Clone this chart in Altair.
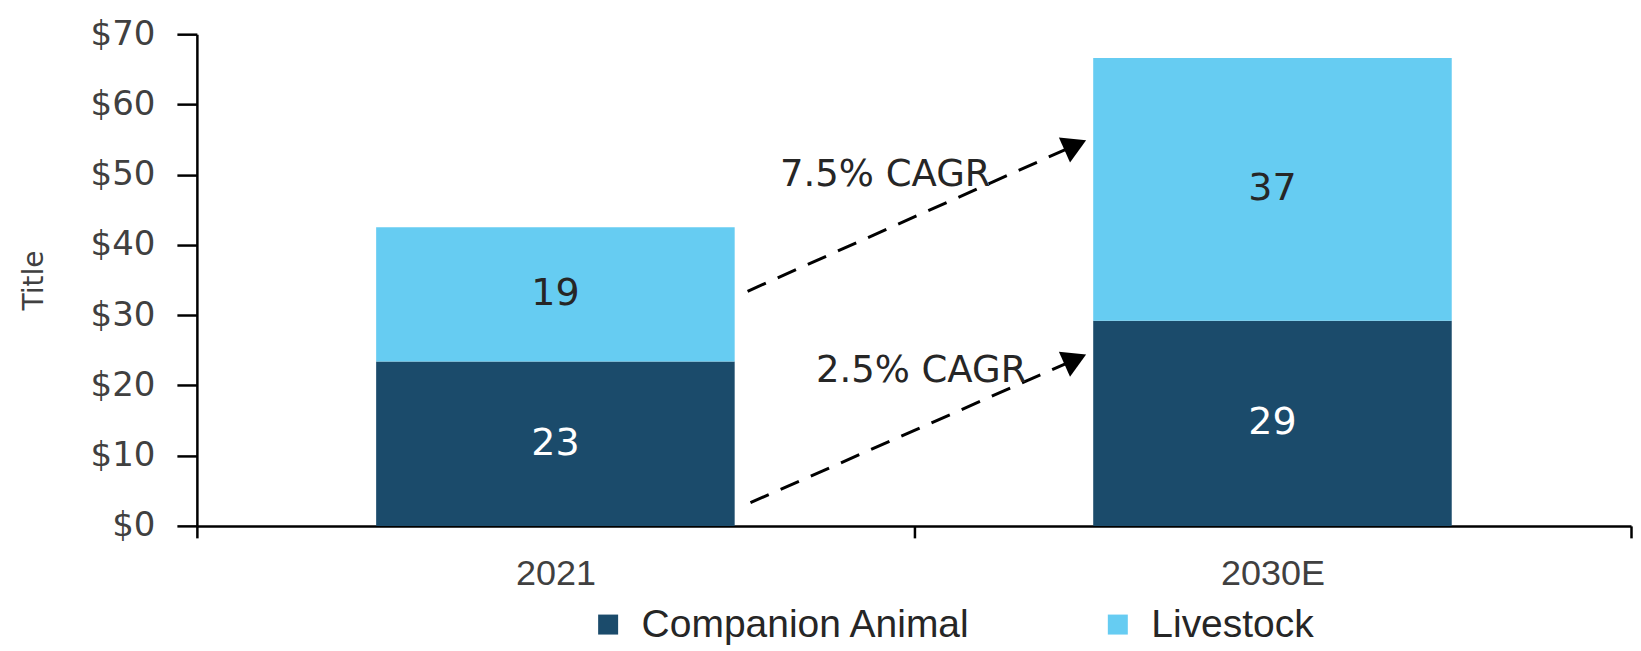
import altair as alt
import pandas as pd

# ---- data ----
years = ["2021", "2030E"]
segments = ["Companion Animal", "Livestock"]
companion = [23.4, 29.2]
livestock = [19.1, 37.4]
colors = ["#1b4b6b", "#66ccf2"]
y_ticks = [0, 10, 20, 30, 40, 50, 60, 70]

# CAGR annotations (data coordinates on a 0-2 helper x-scale and the $ y-scale)
cagr_labels = ["7.5% CAGR", "2.5% CAGR"]
cagr_x = [0.96, 1.01]
cagr_y = [50.0, 22.1]
arrow_x0 = [0.768, 0.772]
arrow_y0 = [33.4, 3.3]
arrow_x1 = [1.225, 1.225]
arrow_y1 = [54.2, 23.7]

rows = []
for i, yr in enumerate(years):
    rows.append({"year": yr, "segment": segments[0], "value": companion[i], "order": 0})
    rows.append({"year": yr, "segment": segments[1], "value": livestock[i], "order": 1})
df = pd.DataFrame(rows)

arrows_df = pd.DataFrame({"x0": arrow_x0, "y0": arrow_y0, "x1": arrow_x1, "y1": arrow_y1})
cagr_df = pd.DataFrame({"label": cagr_labels, "tx": cagr_x, "ty": cagr_y})

YDOM = [0, 70]
GRAY = "#404040"
SANS = "Liberation Sans, Arial, sans-serif"
WIDE = "DejaVu Sans, Verdana, sans-serif"

xband = alt.Scale(paddingInner=0, paddingOuter=0)
yscale = alt.Scale(domain=YDOM)

YAXIS = alt.Axis(
    title="Title",
    values=y_ticks,
    labelExpr="'$' + datum.value",
    grid=False,
    tickSize=20,
    tickWidth=2.5,
    tickColor="black",
    domainColor="black",
    domainWidth=2.5,
    labelFont=WIDE,
    labelFontSize=34,
    labelColor=GRAY,
    labelPadding=22,
    titleFont=WIDE,
    titleFontSize=28,
    titleFontWeight="normal",
    titleColor=GRAY,
    titlePadding=42,
)

base = alt.Chart(df)

bars = base.mark_bar(width=alt.RelativeBandSize(0.5)).encode(
    x=alt.X(
        "year:N",
        sort=years,
        scale=xband,
        axis=alt.Axis(
            title=None,
            labelAngle=0,
            tickBand="extent",
            tickSize=12,
            tickWidth=2.5,
            tickColor="black",
            domainColor="black",
            domainWidth=2.5,
            labelFont=SANS,
            labelFontSize=36,
            labelColor=GRAY,
            labelPadding=19,
        ),
    ),
    y=alt.Y("value:Q", stack="zero", scale=yscale, axis=YAXIS),
    color=alt.Color(
        "segment:N",
        sort=segments,
        scale=alt.Scale(domain=segments, range=colors),
        legend=alt.Legend(
            title=None,
            orient="none",
            legendX=392,
            legendY=571,
            direction="horizontal",
            symbolType="square",
            symbolSize=400,
            symbolStrokeWidth=0,
            labelFont=SANS,
            labelFontSize=39,
            labelColor="#262626",
            labelOffset=14,
            columnPadding=127,
            labelLimit=800,
        ),
    ),
    order=alt.Order("order:Q"),
)

labels = (
    base.transform_stack(
        stack="value",
        groupby=["year"],
        as_=["v0", "v1"],
        sort=[alt.SortField("order", order="ascending")],
    )
    .transform_calculate(mid="(datum.v0 + datum.v1) / 2")
    .mark_text(font=WIDE, fontSize=38)
    .encode(
        x=alt.X("year:N", sort=years, scale=xband),
        y=alt.Y("mid:Q", scale=yscale, axis=YAXIS),
        text=alt.Text("value:Q", format=".0f"),
        color=alt.condition(
            alt.datum.segment == "Companion Animal", alt.value("white"), alt.value("#262626")
        ),
    )
)

helper_x = alt.Scale(domain=[0, 2])

arrow_lines = alt.Chart(arrows_df).mark_rule(
    strokeDash=[20, 13], strokeWidth=3, color="black"
).encode(
    x=alt.X("x0:Q", scale=helper_x, axis=None),
    x2="x1:Q",
    y=alt.Y("y0:Q", scale=yscale, axis=YAXIS),
    y2="y1:Q",
)

arrow_heads = alt.Chart(arrows_df).mark_point(
    shape="triangle-up", filled=True, size=750, color="black", opacity=1, angle=66
).encode(
    x=alt.X("x1:Q", scale=helper_x, axis=None),
    y=alt.Y("y1:Q", scale=yscale, axis=YAXIS),
)

cagr_text = alt.Chart(cagr_df).mark_text(font=WIDE, fontSize=37, color="#262626").encode(
    x=alt.X("tx:Q", scale=helper_x, axis=None),
    y=alt.Y("ty:Q", scale=yscale, axis=YAXIS),
    text="label:N",
)

main = alt.layer(bars, labels)
notes = alt.layer(arrow_lines, arrow_heads, cagr_text)

chart = (
    alt.layer(main, notes)
    .resolve_scale(x="independent")
    .properties(
        width=1435,
        height=492,
        padding={"left": 12, "top": 9, "right": 0, "bottom": 0},
        background="white",
    )
    .configure_view(stroke=None)
)

chart.save("out.html", embed_options={"renderer": "svg", "actions": False})
